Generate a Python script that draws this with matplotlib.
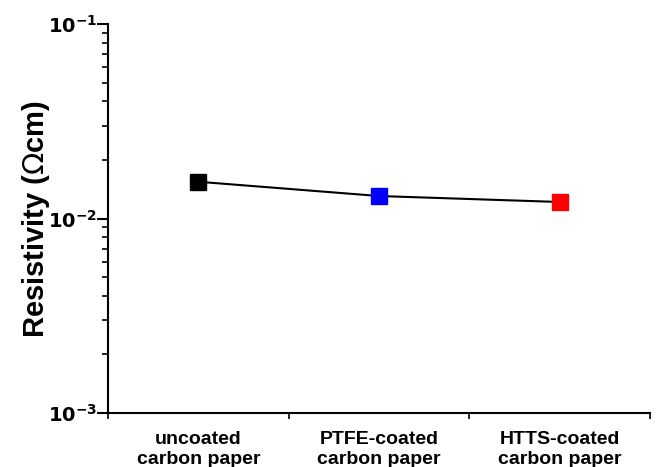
import matplotlib
matplotlib.use("Agg")
import matplotlib.pyplot as plt
import numpy as np
from matplotlib.ticker import LogLocator, NullFormatter, FixedLocator

'''
三种碳纸的电阻率
'''

plt.rcParams['font.family'] = ['Liberation Sans', 'DejaVu Sans']

samples = ["uncoated\ncarbon paper", "PTFE-coated\ncarbon paper", "HTTS-coated\ncarbon paper"]
resistivity = [0.01545, 0.01305, 0.01216]
colors = ["black", "blue", "red"]


def plot_resistivity():
    fig = plt.figure(figsize=(6.64, 4.67), dpi=100)
    ax = fig.add_axes([0.1627, 0.1156, 0.9789 - 0.1627, 0.9486 - 0.1156])
    x = np.arange(len(samples))
    # 连线
    ax.plot(x, resistivity, color="black", linewidth=1.5, zorder=2)
    # 每个点单独的颜色
    for xi, yi, c in zip(x, resistivity, colors):
        ax.plot(xi, yi, marker="s", markersize=12, color=c, linestyle="none", zorder=3)

    ax.set_yscale("log")
    ax.set_ylim(1e-3, 1e-1)
    ax.set_xlim(-0.5, len(samples) - 0.5)

    ax.spines["top"].set_visible(False)
    ax.spines["right"].set_visible(False)
    ax.spines["left"].set_linewidth(1.5)
    ax.spines["bottom"].set_linewidth(1.5)

    # y轴刻度
    ax.yaxis.set_major_locator(FixedLocator([1e-3, 1e-2, 1e-1]))
    ax.set_yticklabels([r"$\mathbf{10^{-3}}$", r"$\mathbf{10^{-2}}$", r"$\mathbf{10^{-1}}$"], fontsize=14)
    ax.yaxis.set_minor_locator(LogLocator(base=10, subs=np.arange(2, 10)))
    ax.yaxis.set_minor_formatter(NullFormatter())
    ax.tick_params(axis="y", which="major", direction="out", length=8, width=1.5, pad=0)
    ax.tick_params(axis="y", which="minor", direction="out", length=4, width=1.2)

    # x轴: 刻度在分界处, 标签在中间
    ax.set_xticks(np.arange(-0.5, len(samples), 1.0))
    ax.set_xticklabels([])
    ax.set_xticks(x, minor=True)
    ax.set_xticklabels(samples, minor=True, fontsize=14, fontweight="bold", linespacing=1.2)
    ax.tick_params(axis="x", which="minor", length=0, pad=13)
    ax.tick_params(axis="x", which="major", direction="out", length=4, width=1.2)

    ax.set_ylabel(r"Resistivity ($\Omega$cm)", fontsize=21, fontweight="bold", labelpad=-3)

    fig.savefig("out.png", dpi=100)


if __name__ == '__main__':
    plot_resistivity()
